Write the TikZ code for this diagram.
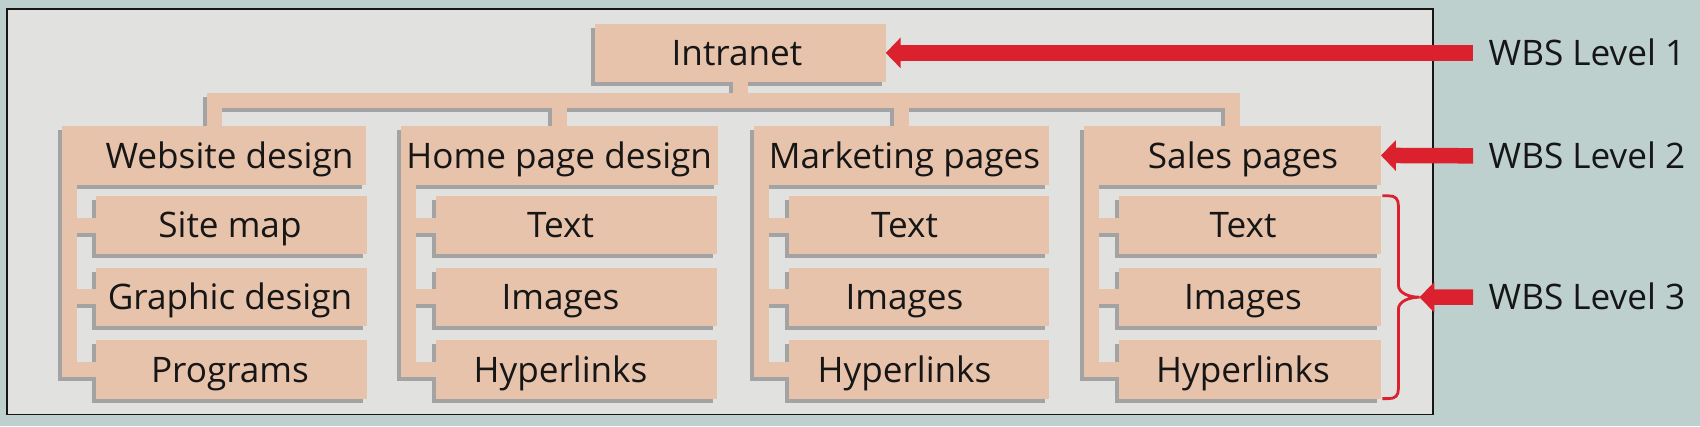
\documentclass[tikz,border=0pt]{standalone}
\usepackage{fontspec}
\setmainfont{Open Sans}
\usetikzlibrary{arrows.meta,calc}

\definecolor{sky}{RGB}{189,208,206}
\definecolor{panelgray}{RGB}{225,225,223}
\definecolor{peach}{RGB}{232,195,171}
\definecolor{shadowgray}{RGB}{163,163,163}
\definecolor{wbsred}{RGB}{218,33,45}
\definecolor{ink}{RGB}{22,22,22}

\pgfdeclarelayer{background}
\pgfsetlayers{background,main}

\begin{document}
\begin{tikzpicture}[x=0.1mm, y=-0.1mm, font=\fontsize{10}{12}\selectfont,
  box/.style={minimum height=5.7mm, inner sep=0pt},
  txt/.style={inner sep=0pt, text height=7.2pt, text depth=0pt, text=ink},
  link/.style={line width=1.5mm, line join=miter},
  lvl/.style={anchor=west, inner xsep=1.5mm, inner ysep=0pt, text height=7.2pt, text depth=0pt, text=ink},
  wbsarrow/.style={wbsred, line width=1.55mm, -{Triangle[length=1.5mm, width=3mm]}}]

  \useasboundingbox (0,0) rectangle (1700,426);

  % level 1 and level 2
  \node[box, minimum width=28.9mm] (intra) at (740.5,52.9) {};
  \node[txt] (intra-t) at (737,52.9) {Intranet};
  \foreach \n/\x/\w/\tx/\t in {web/214/30.3/229.5/Website design,
      hp/559.2/31.6/559.2/Home page design, mkt/901.4/29.3/904.5/Marketing pages,
      sales/1232.2/29.6/1243/Sales pages}{
    \node[box, minimum width=\w mm] (\n) at (\x,155.4) {};
    \node[txt] (\n-t) at (\tx,155.4) {\t};
  }

  % level 3
  \foreach \p/\x/\w/\tx/\ta/\tb/\tc in {w/231.7/27/230/Site map/Graphic design/Programs,
      h/576.7/28/560.5/Text/Images/Hyperlinks, m/918.9/25.8/904.5/Text/Images/Hyperlinks,
      s/1249.7/26.1/1243/Text/Images/Hyperlinks}{
    \foreach \r/\y/\t in {1/225/\ta, 2/296.7/\tb, 3/369.4/\tc}{
      \node[box, minimum width=\w mm] (\p\r) at (\x,\y) {};
      \node[txt] (\p\r-t) at (\tx,\y) {\t};
    }
  }

  \coordinate (bar) at (0,100.5);
  \foreach \p/\top in {w/web, h/hp, m/mkt, s/sales}
    \coordinate (sp\p) at ([xshift=0.75mm]\top.south west);

  % panel, shadows and peach fills
  \begin{pgfonlayer}{background}
    \fill[sky] (0,0) rectangle (1700,426);
    \draw[fill=panelgray, draw=ink, line width=0.15mm] (7,9) rectangle (1433,414.5);
    \foreach \col/\d in {shadowgray/0.4mm, peach/0mm}{
      \begin{scope}[transform canvas={shift={(-\d,-\d)}}]
        \foreach \n in {intra, web, hp, mkt, sales, w1, w2, w3, h1, h2, h3,
            m1, m2, m3, s1, s2, s3}
          \fill[\col] (\n.south west) rectangle (\n.north east);
        \draw[link, \col] (intra.south) -- (intra.south |- bar);
        \draw[link, \col] (web.north) |- (bar -| sales.north) -- (sales.north);
        \draw[link, \col] (hp.north) -- (hp.north |- bar);
        \draw[link, \col] (mkt.north) -- (mkt.north |- bar);
        \foreach \p in {w, h, m, s}{
          \draw[link, \col] (sp\p) |- (\p3.west);
          \draw[link, \col] (sp\p |- \p1.west) -- (\p1.west);
          \draw[link, \col] (sp\p |- \p2.west) -- (\p2.west);
        }
      \end{scope}
    }
  \end{pgfonlayer}

  % level labels
  \node[lvl] (lvl1) at (1473,52.9)  {WBS Level 1};
  \node[lvl] (lvl2) at (1473,155.8) {WBS Level 2};
  \node[lvl] (lvl3) at (1473,297.2) {WBS Level 3};

  \draw[wbsarrow] (lvl1.west) -- (intra.east);
  \draw[wbsarrow] (lvl2.west) -- (sales.east);

  % brace over the sales pages
  \coordinate (bt) at ([xshift=0.15mm]s1.north east);
  \coordinate (bb) at ([xshift=0.15mm]s3.south east);
  \coordinate (brtip) at ($(bt)!0.5!(bb)+(37,0)$);
  \draw[wbsred, line width=0.28mm]
    (bt) -- ++(6,0) .. controls +(7,0) and +(0,-7) .. ++(10,10)
    -- ($(brtip)+(-21,-12)$) .. controls +(0,8) and +(-10,0) .. (brtip)
    .. controls +(-10,0) and +(0,-8) .. ($(brtip)+(-21,12)$)
    -- ($(bb)+(16,-10)$) .. controls +(0,7) and +(7,0) .. ($(bb)+(6,0)$) -- (bb);
  \draw[wbsarrow] (lvl3.west) -- (brtip);

\end{tikzpicture}
\end{document}
